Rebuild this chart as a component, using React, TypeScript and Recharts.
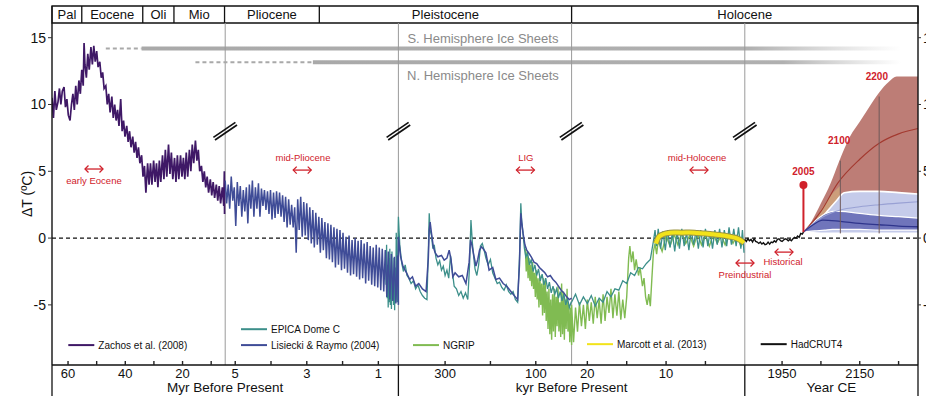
import React from 'react';
import { ComposedChart, Line, Area, XAxis, YAxis, ReferenceLine, ReferenceArea, ReferenceDot } from 'recharts';

type P = [number, number];
type B = [number, number, number];

const FONT = '"Liberation Sans", Arial, Helvetica, sans-serif';
const RED = '#d0212b';
const ZACHOS = '#3f1866';
const LR04 = '#3f4c97';
const EPICA = '#3c8f8a';
const NGRIP = '#80bb52';
const MARCOTT = '#f2e31a';
const GRAYLINE = '#9a9a9a';

// piecewise time axis: each segment occupies one unit of the composite x axis
const SEGMENTS = [
  { from: 65.6, to: 5.1 }, // Myr
  { from: 5.28, to: 0.44 }, // Myr
  { from: 403, to: 21 }, // kyr
  { from: 22, to: 0 }, // kyr
  { from: 1854, to: 2300 }, // Year CE
];
const toX = (seg: number, t: number) => seg + (t - SEGMENTS[seg].from) / (SEGMENTS[seg].to - SEGMENTS[seg].from);
const pts = (seg: number, arr: P[]) => arr.map(([t, v]) => ({ x: toX(seg, t), v }));
const band = (seg: number, arr: B[]) => arr.map(([t, lo, hi]) => ({ x: toX(seg, t), r: [lo, hi] }));

const Y_MIN = -9.5;
const Y_MAX = 16.1;
const yTicks = [15, 10, 5, 0, -5];

// ---------- data (Myr, kyr, year CE ; ΔT °C) ----------
const zachosMyr: P[] = [
  [65.6, 10.5], [65.1, 9.0], [64.6, 11.0], [64.1, 9.6], [63.5, 10.2], [63.0, 11.2], [62.5, 10.0], [62.0, 11.0],
  [61.4, 11.3], [60.9, 9.8], [60.4, 10.4], [59.9, 9.2], [59.3, 8.8], [58.8, 10.0], [58.3, 10.8], [57.8, 9.6],
  [57.3, 11.4], [56.8, 10.0], [56.2, 11.8], [55.7, 10.8], [55.2, 12.6], [54.7, 11.4], [54.4, 14.6], [54.1, 13.0],
  [53.6, 12.0], [53.1, 13.8], [52.6, 12.6], [52.0, 14.3], [51.5, 13.0], [51.0, 14.4], [50.5, 13.2], [50.0, 14.0],
  [49.5, 12.8], [48.9, 13.2], [48.4, 12.0], [47.9, 12.4], [47.4, 11.2], [46.8, 11.4], [46.3, 10.0], [45.8, 10.8],
  [45.3, 9.4], [44.7, 10.6], [44.2, 9.0], [43.7, 10.0], [43.2, 8.8], [42.7, 9.6], [42.2, 8.4], [41.6, 10.4],
  [41.1, 8.0], [40.6, 8.8], [40.1, 7.6], [39.5, 8.4], [39.0, 7.2], [38.5, 8.0], [38.0, 6.8], [37.4, 7.6],
  [36.9, 6.4], [36.4, 7.2], [35.9, 6.0], [35.4, 6.8], [34.9, 5.6], [34.3, 6.2], [33.8, 4.6], [33.3, 5.4],
  [32.8, 3.4], [32.2, 5.6], [31.7, 4.0], [31.2, 5.6], [30.7, 4.0], [30.1, 5.8], [29.6, 4.2], [29.1, 5.6],
  [28.6, 3.8], [28.1, 5.8], [27.6, 4.2], [27.0, 6.2], [26.5, 4.4], [26.0, 6.6], [25.5, 4.6], [24.9, 7.0],
  [24.4, 4.8], [23.9, 6.4], [23.4, 4.4], [22.8, 6.0], [22.3, 4.2], [21.8, 6.2], [21.3, 4.4], [20.7, 6.2],
  [20.2, 4.6], [19.7, 6.0], [19.2, 4.4], [18.7, 6.4], [18.2, 4.6], [17.6, 6.6], [17.1, 5.0], [16.6, 7.0],
  [16.1, 5.6], [15.5, 7.3], [15.0, 5.8], [14.5, 6.6], [14.0, 5.0], [13.4, 5.4], [12.9, 4.2], [12.4, 5.0],
  [11.9, 3.8], [11.4, 4.6], [10.9, 3.4], [10.3, 4.4], [9.8, 3.2], [9.3, 4.2], [8.8, 3.0], [8.2, 4.0],
  [7.7, 2.8], [7.2, 3.9], [6.7, 2.6], [6.1, 3.8], [5.6, 2.4], [5.4, 5.0], [5.33, 1.8],
];

const lr04Myr: P[] = [
  [5.28, 4.3], [5.24, 2.6], [5.196, 4.0], [5.154, 2.2], [5.111, 4.6], [5.069, 2.8], [5.027, 3.8], [4.985, 0.9],
  [4.942, 4.2], [4.9, 2.4], [4.858, 3.9], [4.816, 1.6], [4.774, 3.6], [4.732, 2.0], [4.689, 3.8], [4.647, 1.1],
  [4.605, 4.0], [4.563, 2.2], [4.52, 4.3], [4.478, 1.6], [4.436, 3.8], [4.394, 2.2], [4.351, 4.1], [4.309, 1.6],
  [4.267, 3.7], [4.225, 2.4], [4.183, 3.6], [4.141, 2.1], [4.098, 3.5], [4.056, 1.8], [4.014, 3.6], [3.972, 1.4],
  [3.929, 3.4], [3.887, 1.5], [3.845, 3.5], [3.803, 1.8], [3.761, 3.4], [3.719, 1.6], [3.676, 3.2], [3.634, 1.2],
  [3.592, 3.1], [3.55, 0.8], [3.507, 2.9], [3.465, 1.0], [3.423, 2.5], [3.381, 0.8], [3.338, 2.3], [3.296, -1.1],
  [3.254, 2.9], [3.212, 0.6], [3.17, 3.1], [3.128, 0.1], [3.085, 2.7], [3.043, 0.2], [3.001, 2.6], [2.959, -0.15],
  [2.916, 2.3], [2.874, -0.4], [2.832, 2.1], [2.79, -0.7], [2.748, 1.9], [2.706, -0.5], [2.663, 1.6], [2.621, -1.1],
  [2.579, 1.5], [2.537, -0.9], [2.494, 1.2], [2.452, -1.5], [2.41, 1.1], [2.368, -1.6], [2.326, 1.0], [2.284, -1.8],
  [2.241, 0.8], [2.199, -2.2], [2.157, 0.7], [2.115, -2.0], [2.072, 0.6], [2.03, -2.4], [1.988, 0.4], [1.946, -2.3],
  [1.904, 0.1], [1.862, -2.6], [1.819, 0.2], [1.777, -2.8], [1.735, -0.15], [1.693, -2.7], [1.65, 0.0], [1.608, -2.9],
  [1.566, -0.2], [1.524, -3.1], [1.481, -0.15], [1.439, -3.0], [1.397, -0.4], [1.355, -3.4], [1.313, -0.3], [1.271, -3.2],
  [1.228, -0.6], [1.186, -3.5], [1.144, -0.7], [1.102, -3.6], [1.059, -0.5], [1.017, -3.7], [0.975, -0.7], [0.933, -3.9],
  [0.891, -0.8], [0.849, -4.0], [0.806, -0.9], [0.764, -4.4], [0.722, -1.0], [0.68, -4.6], [0.637, -1.2], [0.595, -4.7],
  [0.553, -1.4], [0.511, -4.9], [0.469, -1.3], [0.44, -5.0],
];

const lr04Kyr: P[] = [
  [403, 0.1], [398, -1.4], [393, -2.1], [385, -2.6], [378, -3.1], [372, -2.9], [365, -3.6], [358, -3.4],
  [350, -3.8], [342, -4.0], [337, -1.5], [335, 0.6], [333, 1.2], [330, 0.35], [326, -0.65], [322, -1.1],
  [316, -1.4], [308, -1.3], [302, -1.65], [296, -1.5], [291, -0.9], [287, -1.6], [283, -2.9], [278, -2.6],
  [270, -2.9], [262, -2.8], [254, -3.4], [247, -1.8], [244, -0.15], [241, -0.5], [236, -1.4], [232, -2.1],
  [228, -1.6], [224, -0.9], [220, -0.65], [216, -0.8], [210, -1.1], [203, -2.4], [195, -2.2], [188, -3.1],
  [180, -3.0], [172, -3.4], [164, -3.6], [157, -3.9], [150, -4.2], [145, -4.4], [140, -4.6], [136, -2.0],
  [133, 1.85], [131, 1.2], [128, 0.35], [124, -0.5], [120, -0.9], [116, -1.1], [110, -1.4], [104, -1.8],
  [98, -1.9], [92, -2.2], [86, -2.4], [80, -2.6], [74, -2.9], [68, -2.8], [62, -3.1], [56, -3.3],
  [50, -3.6], [44, -3.9], [38, -4.1], [32, -4.4], [26, -4.6], [21, -4.5],
];

const epicaMyr: P[] = [
  [0.8, -1.0], [0.785, -3.5], [0.77, -0.5], [0.755, -4.5], [0.74, -2.0], [0.725, -5.2], [0.71, -1.5], [0.695, -4.8],
  [0.68, -0.8], [0.665, -5.0], [0.65, -2.5], [0.635, -5.3], [0.62, -1.0], [0.605, -4.6], [0.59, -3.0], [0.575, -5.0],
  [0.56, -1.5], [0.545, -5.4], [0.53, -2.2], [0.515, -4.8], [0.5, 0.4], [0.485, -3.6], [0.47, -4.8], [0.455, -1.0],
  [0.44, 1.5],
];

const epicaKyr: P[] = [
  [403, 1.6], [400, -0.5], [396, -1.8], [392, -2.5], [388, -2.0], [384, -2.8], [380, -3.0], [375, -3.4],
  [370, -3.2], [365, -3.8], [360, -3.5], [355, -4.0], [350, -4.3], [345, -4.5], [340, -4.6], [337, -1.0],
  [335, 1.85], [333, 0.6], [330, 0.2], [327, -0.8], [324, -0.5], [320, -1.5], [316, -2.0], [312, -1.7],
  [308, -2.4], [304, -2.1], [300, -2.8], [296, -2.4], [292, -3.0], [288, -1.3], [284, -2.5], [280, -3.6],
  [275, -3.8], [270, -4.3], [265, -4.0], [260, -4.5], [255, -4.1], [250, -4.6], [246, -2.0], [243, 1.35],
  [240, -0.3], [237, -1.4], [234, -2.3], [230, -2.8], [226, -2.0], [222, -0.6], [218, -0.4], [214, -0.9],
  [210, -1.5], [205, -2.0], [200, -1.6], [195, -2.6], [190, -3.0], [185, -3.4], [180, -3.3], [175, -3.7],
  [170, -3.9], [165, -3.5], [160, -4.0], [155, -4.2], [150, -4.0], [145, -4.6], [140, -4.8], [136, -1.5],
  [133, 2.6], [131, 1.2], [128, 0.3], [125, -0.8], [122, -1.4], [118, -1.1], [114, -2.0], [110, -1.6],
  [106, -2.5], [102, -2.0], [98, -2.8], [94, -2.3], [90, -3.2], [86, -2.7], [82, -3.5], [78, -3.0],
  [74, -3.8], [70, -3.3], [66, -4.1], [62, -3.6], [58, -4.2], [54, -3.8], [50, -4.5], [46, -4.0],
  [42, -4.7], [38, -4.2], [34, -5.0], [30, -4.5], [26, -5.2], [22, -4.8],
];

const epicaHolo: P[] = [
  [22, -4.8], [21.5, -4.2], [21, -5.0], [20.5, -4.4], [20, -4.9], [19.5, -4.3], [19, -5.1], [18.5, -4.5],
  [18, -4.8], [17.5, -4.0], [17, -4.4], [16.5, -3.8], [16, -3.9], [15.5, -3.2], [15, -3.4], [14.5, -2.6],
  [14, -2.8], [13.5, -2.2], [13, -2.3], [12.5, -1.9], [12, -1.6], [11.8, -0.9], [11.6, -0.2], [11.4, 0.6],
  [11.2, -0.6], [11, 0.7], [10.7, -0.8], [10.4, 0.5], [10.1, -0.9], [9.8, 0.6], [9.5, -0.7], [9.2, 0.4],
  [8.9, -1.0], [8.6, 0.5], [8.3, -0.8], [8.0, 0.7], [7.7, -0.6], [7.4, 0.4], [7.1, -0.9], [6.8, 0.6],
  [6.5, -0.5], [6.2, 0.5], [5.9, -0.8], [5.6, 0.6], [5.3, -0.7], [5.0, 0.7], [4.7, -0.6], [4.4, 0.5],
  [4.1, -0.8], [3.8, 0.6], [3.5, -0.5], [3.2, 0.7], [2.9, -0.7], [2.6, 0.6], [2.3, -0.6], [2.0, 0.8],
  [1.7, -0.5], [1.4, 0.7], [1.1, -0.6], [0.8, 0.8], [0.5, -0.8], [0.3, 0.6], [0.1, -1.1],
];

const ngripKyr: P[] = [
  [123, -0.8], [121, -2.5], [119, -1.0], [117, -3.0], [115, -1.5], [113, -3.2], [111, -2.0], [109, -3.6],
  [107, -1.8], [105, -3.8], [103, -2.6], [101, -4.4], [99, -2.4], [97, -4.6], [95, -3.0], [93, -5.2],
  [91, -2.8], [89, -5.0], [87, -3.4], [85, -5.8], [83, -3.0], [81, -5.6], [79, -3.2], [77, -6.2],
  [75, -4.0], [73, -6.8], [71, -3.8], [69, -7.2], [67, -4.6], [65, -7.6], [63, -4.2], [61, -7.0],
  [59, -3.8], [57, -7.4], [55, -4.4], [53, -6.6], [51, -3.6], [49, -7.0], [47, -4.8], [45, -7.4],
  [43, -3.4], [41, -7.2], [39, -4.0], [37, -7.6], [35, -4.6], [33, -6.8], [31, -3.8], [29, -7.0],
  [27, -5.0], [25, -7.8], [23, -5.2], [21, -8.0],
];

const ngripHolo: P[] = [
  [22, -5.0], [21.75, -7.8], [21.5, -5.2], [21.25, -7.0], [21, -4.8], [20.75, -6.6], [20.5, -5.0], [20.25, -6.8],
  [20, -4.6], [19.75, -6.2], [19.5, -4.8], [19.25, -6.4], [19, -4.4], [18.75, -6.0], [18.5, -4.6], [18.25, -6.4],
  [18, -4.2], [17.75, -6.2], [17.5, -4.4], [17.25, -5.6], [17, -3.8], [16.75, -6.0], [16.5, -4.2], [16.25, -5.8],
  [16, -4.0], [15.75, -6.1], [15.5, -4.6], [15.25, -6.0], [15, -4.4], [14.75, -1.5], [14.6, -0.6], [14.4, -1.8],
  [14.2, -1.0], [14.0, -2.4], [13.8, -1.6], [13.5, -2.8], [13.3, -2.2], [13.0, -3.6], [12.8, -3.0], [12.6, -4.4],
  [12.4, -5.0], [12.2, -4.2], [12.0, -5.1], [11.8, -3.0], [11.6, -1.0], [11.4, -0.4], [11.2, -1.2], [11.0, -0.2],
  [10.5, -1.0], [10, 0.2], [9.5, -0.6], [9, 0.3], [8.5, -0.5], [8, 0.4], [7.5, -0.4], [7, 0.2],
  [6.5, -0.6], [6, 0.3], [5.5, -0.5], [5, 0.2], [4.5, -0.6], [4, 0.3], [3.5, -0.4], [3, 0.2],
  [2.5, -0.5], [2, 0.3], [1.5, -0.4], [1, 0.2], [0.5, -0.6], [0.1, -0.2],
];

const marcottKyr: P[] = [
  [11.3, -0.4], [10.9, 0.1], [10.5, 0.25], [10, 0.35], [9, 0.42], [8, 0.4], [7, 0.42], [6, 0.38],
  [5, 0.35], [4, 0.28], [3, 0.22], [2, 0.12], [1, -0.02], [0.5, -0.18], [0.1, -0.35],
];

const hadcrutYear: P[] = [
  [1854, -0.1], [1858, -0.25], [1862, -0.05], [1866, -0.2], [1870, -0.1], [1874, -0.3], [1878, -0.05], [1882, -0.25],
  [1886, -0.3], [1890, -0.4], [1894, -0.3], [1898, -0.45], [1902, -0.35], [1906, -0.5], [1910, -0.45], [1914, -0.3],
  [1918, -0.45], [1922, -0.3], [1926, -0.35], [1930, -0.2], [1934, -0.3], [1938, -0.1], [1942, -0.05], [1946, -0.2],
  [1950, -0.25], [1954, -0.15], [1958, -0.05], [1962, -0.1], [1966, -0.2], [1970, -0.1], [1974, -0.2], [1978, -0.05],
  [1982, 0.05], [1986, 0.0], [1990, 0.15], [1994, 0.05], [1998, 0.35], [2002, 0.3], [2005, 0.45],
];

// projections [year, low, high]
const brownBand: B[] = [
  [2005, 0.45, 0.45], [2025, 0.9, 1.2], [2050, 1.6, 2.6], [2075, 2.2, 4.1], [2095, 2.6, 5.6], [2125, 3.0, 7.6],
  [2150, 3.0, 8.7], [2170, 3.0, 9.6], [2200, 3.0, 10.9], [2225, 3.0, 11.7], [2245, 3.0, 12.1], [2300, 3.0, 12.1],
];
const tanBand: B[] = [[2040, 1.3, 1.6], [2070, 2.0, 3.0], [2099, 2.8, 3.9]];
const lightBand: B[] = [
  [2005, 0.45, 0.45], [2030, 0.4, 1.0], [2060, 0.35, 1.8], [2090, 0.35, 2.8], [2110, 0.35, 3.4], [2150, 0.35, 3.5],
  [2200, 0.35, 3.5], [2250, 0.35, 3.4], [2300, 0.35, 3.3],
];
const darkBand: B[] = [
  [2005, 0.45, 0.45], [2020, 0.5, 0.9], [2040, 0.55, 1.4], [2060, 0.6, 1.8], [2080, 0.65, 2.0], [2100, 0.65, 2.0],
  [2150, 0.65, 1.85], [2200, 0.6, 1.7], [2250, 0.6, 1.6], [2300, 0.6, 1.5],
];
const brownMedian: P[] = [[2005, 0.45], [2050, 2.0], [2093, 4.1], [2150, 5.9], [2200, 7.1], [2250, 7.8], [2300, 8.2]];
const lightMedian: P[] = [[2005, 0.45], [2050, 1.5], [2100, 2.1], [2150, 2.35], [2200, 2.5], [2250, 2.62], [2300, 2.72]];
const darkMedian: P[] = [[2005, 0.45], [2030, 1.0], [2055, 1.35], [2100, 1.25], [2150, 1.1], [2200, 1.0], [2250, 0.9], [2300, 0.85]];

// ---------- axis labels ----------
const axisSegs = [
  { seg: 0, ticks: [60, 50, 40, 30, 20, 10], labels: ['60', '', '40', '', '20', ''] },
  { seg: 1, ticks: [5, 4, 3, 2, 1], labels: ['5', '', '3', '', '1'] },
  { seg: 2, ticks: [300, 200, 100], labels: ['300', '', '100'] },
  { seg: 3, ticks: [20, 15, 10, 5], labels: ['20', '', '10', ''] },
  { seg: 4, ticks: [1950, 2050, 2150, 2250], labels: ['1950', '', '2150', ''] },
];
const axisTitles = [
  { v: 1, text: 'Myr Before Present' },
  { v: 3, text: 'kyr Before Present' },
  { v: 4.5, text: 'Year CE' },
];
const panelDividers = [0, 2, 4, 5];

const epochNames = ['Pal', 'Eocene', 'Oli', 'Mio', 'Pliocene', 'Pleistocene', 'Holocene'];
const epochBounds: P[] = [[0, 65.6], [0, 55.2], [0, 33.9], [0, 23.0], [0, 5.33], [1, 2.65], [2, 21], [4, 2300]];

const key = (v: number) => v.toFixed(4);

type TickInfo = { kind: 'tick' | 'divider' | 'title'; text: string };
const bottomMap = new Map<string, TickInfo>();
axisSegs.forEach((s) => s.ticks.forEach((t, i) => bottomMap.set(key(toX(s.seg, t)), { kind: 'tick', text: s.labels[i] })));
panelDividers.forEach((v) => bottomMap.set(key(v), { kind: 'divider', text: '' }));
axisTitles.forEach((t) => bottomMap.set(key(t.v), { kind: 'title', text: t.text }));
const bottomTickValues = Array.from(bottomMap.keys()).map(Number).sort((a, b) => a - b);

const epochMap = new Map<string, TickInfo>();
const epochX = epochBounds.map(([s, t]) => toX(s, t));
epochX.forEach((v) => epochMap.set(key(v), { kind: 'divider', text: '' }));
epochNames.forEach((n, i) => epochMap.set(key((epochX[i] + epochX[i + 1]) / 2), { kind: 'title', text: n }));
const epochTickValues = Array.from(epochMap.keys()).map(Number).sort((a, b) => a - b);

const BottomTick = (props: any) => {
  const { x, y, payload } = props;
  const info = bottomMap.get(key(Number(payload.value)));
  if (!info) return null;
  if (info.kind === 'divider') return <line x1={x} x2={x} y1={y} y2={y + 31} stroke="#111" strokeWidth={1.3} />;
  if (info.kind === 'title')
    return (
      <text x={x} y={y + 26.5} textAnchor="middle" fontSize={13.5} fill="#111">
        {info.text}
      </text>
    );
  return (
    <g>
      <line x1={x} x2={x} y1={y} y2={y - 4} stroke="#222" strokeWidth={1.4} />
      {info.text ? (
        <text x={x} y={y + 13} textAnchor="middle" fontSize={13} fill="#111">
          {info.text}
        </text>
      ) : null}
    </g>
  );
};

const EpochTick = (props: any) => {
  const { x, y, payload } = props;
  const info = epochMap.get(key(Number(payload.value)));
  if (!info) return null;
  if (info.kind === 'divider') return <line x1={x} x2={x} y1={y} y2={y - 17} stroke="#111" strokeWidth={1.3} />;
  return (
    <text x={x} y={y - 4.5} textAnchor="middle" fontSize={13} fill="#111">
      {info.text}
    </text>
  );
};

// ---------- annotations (composite axis units) ----------
const redLabels = [
  { x: 0.2425, y: 4.27, text: 'early Eocene' },
  { x: 1.449, y: 5.99, text: 'mid-Pliocene' },
  { x: 2.7356, y: 5.99, text: 'LIG' },
  { x: 3.7245, y: 5.99, text: 'mid-Holocene' },
  { x: 4.001, y: -2.77, text: 'Preindustrial' },
  { x: 4.2206, y: -1.8, text: 'Historical' },
];
const redArrows = [
  { x: 0.2425, y: 5.17 }, { x: 1.4447, y: 5.09 }, { x: 2.7333, y: 5.09 },
  { x: 3.7356, y: 5.09 }, { x: 4.0012, y: -1.87 }, { x: 4.2263, y: -1.05 },
];
const yearLabels = [
  { t: 2005, y: 5.02, text: '2005' },
  { t: 2097, y: 7.34, text: '2100' },
  { t: 2194, y: 12.06, text: '2200' },
];
const legendItems = [
  { x: 0.0941, y: -8.01, color: ZACHOS, text: 'Zachos et al. (2008)' },
  { x: 1.0912, y: -6.82, color: EPICA, text: 'EPICA Dome C' },
  { x: 1.0912, y: -8.01, color: LR04, text: 'Lisiecki & Raymo (2004)' },
  { x: 2.0843, y: -8.01, color: NGRIP, text: 'NGRIP' },
  { x: 3.089, y: -7.94, color: MARCOTT, text: 'Marcott et al. (2013)' },
  { x: 4.0918, y: -7.94, color: '#111', text: 'HadCRUT4' },
];
const iceSheets = [
  { label: 'S. Hemisphere Ice Sheets', y: 14.2, labelY: 14.98, dash: [[0, 46.8], [0, 34.3]] as P[], end: [4, 2256] as P },
  { label: 'N. Hemisphere Ice Sheets', y: 13.16, labelY: 12.21, dash: [[0, 15.5], [1, 2.83]] as P[], end: [4, 2256] as P },
];
const breakMarks = [1, 2, 3, 4];

const Arrow = (p: any) => {
  const { cx, cy } = p;
  return (
    <g stroke={RED} strokeWidth={1.3} fill="none">
      <line x1={cx - 9} y1={cy} x2={cx + 9} y2={cy} />
      <polyline points={`${cx - 5.5},${cy - 3.5} ${cx - 9},${cy} ${cx - 5.5},${cy + 3.5}`} />
      <polyline points={`${cx + 5.5},${cy - 3.5} ${cx + 9},${cy} ${cx + 5.5},${cy + 3.5}`} />
    </g>
  );
};
const textShape = (text: string, size: number, fill: string, weight: any = 'normal', anchor: any = 'middle') => (p: any) => (
  <text x={p.cx} y={p.cy} dy="0.35em" textAnchor={anchor} fontSize={size} fill={fill} fontWeight={weight}>
    {text}
  </text>
);
const legendShape = (text: string, color: string) => (p: any) => (
  <g>
    <line x1={p.cx} x2={p.cx + 26} y1={p.cy} y2={p.cy} stroke={color} strokeWidth={2} />
    <text x={p.cx + 30} y={p.cy} dy="0.35em" fontSize={10} fill="#111">
      {text}
    </text>
  </g>
);
const BreakMark = (p: any) => {
  const { cx, cy } = p;
  return (
    <g stroke="#111" strokeWidth={1.7}>
      <line x1={cx - 11.8} y1={cy + 6.2} x2={cx + 10.2} y2={cy - 8.8} />
      <line x1={cx - 10.2} y1={cy + 8.8} x2={cx + 11.8} y2={cy - 6.2} />
    </g>
  );
};

const BAND_UNITS = (17 * (Y_MAX - Y_MIN)) / 342;

export default function App() {
  const lr04 = [...pts(1, lr04Myr), ...pts(2, lr04Kyr)];
  const epica = [...pts(1, epicaMyr), ...pts(2, epicaKyr), ...pts(3, epicaHolo)];
  const ngrip = [...pts(2, ngripKyr), ...pts(3, ngripHolo)];
  const common = { dataKey: 'v', type: 'linear' as const, dot: false, isAnimationActive: false, activeDot: false };
  return (
    <div style={{ position: 'absolute', left: 0, top: 0, width: 926, height: 396, overflow: 'hidden', background: '#fff', fontFamily: FONT }}>
      <ComposedChart width={926} height={396} margin={{ top: 6, right: 0, bottom: 0, left: 0 }}>
        <defs>
          <linearGradient id="iceFade" x1="0" y1="0" x2="1" y2="0">
            <stop offset="0" stopColor="#a9a9a9" />
            <stop offset="0.8" stopColor="#b0b0b0" />
            <stop offset="1" stopColor="#c0c0c0" stopOpacity="0" />
          </linearGradient>
        </defs>
        <XAxis
          dataKey="x" type="number" domain={[0, 5]} allowDataOverflow ticks={bottomTickValues} interval={0}
          tick={BottomTick} tickLine={false} tickSize={0} tickMargin={0} height={31}
          axisLine={{ stroke: '#111', strokeWidth: 1.4 }}
        />
        <XAxis
          xAxisId="epoch" orientation="top" dataKey="x" type="number" domain={[0, 5]} allowDataOverflow
          ticks={epochTickValues} interval={0} tick={EpochTick} tickLine={false} tickSize={0} tickMargin={0}
          axisLine={false} height={17}
        />
        <YAxis
          type="number" domain={[Y_MIN, Y_MAX]} allowDataOverflow ticks={yTicks} interval={0} width={52}
          tickSize={4} tickMargin={2} tick={{ fontSize: 14, fill: '#111' }} tickLine={{ stroke: '#333' }}
          axisLine={{ stroke: '#111', strokeWidth: 1.4 }}
          label={{ value: 'ΔT (ºC)', angle: -90, position: 'center', fontSize: 14, fill: '#111', dx: 1 }}
        />
        <YAxis
          yAxisId="r" orientation="right" type="number" domain={[Y_MIN, Y_MAX]} allowDataOverflow ticks={yTicks}
          interval={0} width={8} tickSize={3} tickMargin={2} tick={{ fontSize: 14, fill: '#111' }}
          tickLine={{ stroke: '#333' }} axisLine={{ stroke: '#111', strokeWidth: 1.4 }}
        />

        <ReferenceArea x1={0} x2={5} y1={Y_MAX} y2={Y_MAX + BAND_UNITS} ifOverflow="visible" fill="none" stroke="#111" strokeWidth={1.3} />
        {breakMarks.map((v) => (
          <ReferenceLine key={'sep' + v} x={v} stroke={GRAYLINE} strokeWidth={1} />
        ))}
        <ReferenceLine y={0} stroke="#111" strokeDasharray="4 3" strokeWidth={1.3} />

        {iceSheets.map((s) => (
          <ReferenceLine
            key={'d' + s.label}
            segment={[{ x: toX(s.dash[0][0], s.dash[0][1]), y: s.y }, { x: toX(s.dash[1][0], s.dash[1][1]), y: s.y }]}
            stroke="#a9a9a9" strokeWidth={2} strokeDasharray="4 3"
          />
        ))}
        {iceSheets.map((s) => (
          <ReferenceArea
            key={'a' + s.label} x1={toX(s.dash[1][0], s.dash[1][1])} x2={toX(s.end[0], s.end[1])}
            y1={s.y - 0.15} y2={s.y + 0.15} fill="url(#iceFade)" fillOpacity={1} stroke="none"
          />
        ))}
        {iceSheets.map((s) => (
          <ReferenceDot key={'l' + s.label} x={2.488} y={s.labelY} r={0} shape={textShape(s.label, 13, '#8a8a8a')} />
        ))}

        {/* projections */}
        <Area data={band(4, brownBand)} dataKey="r" type="monotone" fill="#b9766f" fillOpacity={0.95} stroke="none" isAnimationActive={false} activeDot={false} />
        <Area data={band(4, tanBand)} dataKey="r" type="monotone" fill="#cda27c" fillOpacity={0.9} stroke="none" isAnimationActive={false} activeDot={false} />
        <Area data={band(4, lightBand)} dataKey="r" type="monotone" fill="#c5cbea" fillOpacity={1} stroke="#ffffff" strokeWidth={1.6} isAnimationActive={false} activeDot={false} />
        <Area data={band(4, darkBand)} dataKey="r" type="monotone" fill="#7075bb" fillOpacity={1} stroke="#ffffff" strokeWidth={1.2} isAnimationActive={false} activeDot={false} />
        <Line {...common} data={pts(4, brownMedian)} type="monotone" stroke="#a3392f" strokeWidth={1.1} />
        <Line {...common} data={pts(4, lightMedian)} type="monotone" stroke="#99a1d4" strokeWidth={1.1} />
        <Line {...common} data={pts(4, darkMedian)} type="monotone" stroke="#2f358c" strokeWidth={1.3} />
        <ReferenceLine segment={[{ x: toX(4, 2100), y: 0.35 }, { x: toX(4, 2100), y: 5.8 }]} stroke="#6f5a5a" strokeWidth={1} />
        <ReferenceLine segment={[{ x: toX(4, 2200), y: 0.35 }, { x: toX(4, 2200), y: 10.6 }]} stroke="#6f5a5a" strokeWidth={1} />

        {/* reconstructions */}
        <Line {...common} data={pts(0, zachosMyr)} stroke={ZACHOS} strokeWidth={1.7} />
        <Line {...common} data={ngrip} stroke={NGRIP} strokeWidth={1.4} />
        <Line {...common} data={epica} stroke={EPICA} strokeWidth={1.3} />
        <Line {...common} data={lr04} stroke={LR04} strokeWidth={1.5} />
        <Line {...common} data={pts(3, marcottKyr)} type="monotone" stroke="#9c9440" strokeWidth={6} />
        <Line {...common} data={pts(3, marcottKyr)} type="monotone" stroke={MARCOTT} strokeWidth={4} />
        <Line {...common} data={pts(4, hadcrutYear)} stroke="#111" strokeWidth={1.4} />

        {/* 2005 marker */}
        <ReferenceLine segment={[{ x: toX(4, 2005), y: 0.45 }, { x: toX(4, 2005), y: 3.97 }]} stroke={RED} strokeWidth={2} />
        <ReferenceDot x={toX(4, 2005)} y={3.97} r={4} fill={RED} stroke="none" />

        {breakMarks.map((v) => (
          <ReferenceDot key={'b' + v} x={v} y={8.0} r={0} shape={BreakMark} />
        ))}
        {redLabels.map((l) => (
          <ReferenceDot key={'t' + l.text} x={l.x} y={l.y} r={0} shape={textShape(l.text, 9.5, RED)} />
        ))}
        {redArrows.map((a, i) => (
          <ReferenceDot key={'ar' + i} x={a.x} y={a.y} r={0} shape={Arrow} />
        ))}
        {yearLabels.map((l) => (
          <ReferenceDot key={'y' + l.text} x={toX(4, l.t)} y={l.y} r={0} shape={textShape(l.text, 10, RED, 'bold')} />
        ))}
        {legendItems.map((l) => (
          <ReferenceDot key={'lg' + l.text} x={l.x} y={l.y} r={0} shape={legendShape(l.text, l.color)} />
        ))}
      </ComposedChart>
    </div>
  );
}
